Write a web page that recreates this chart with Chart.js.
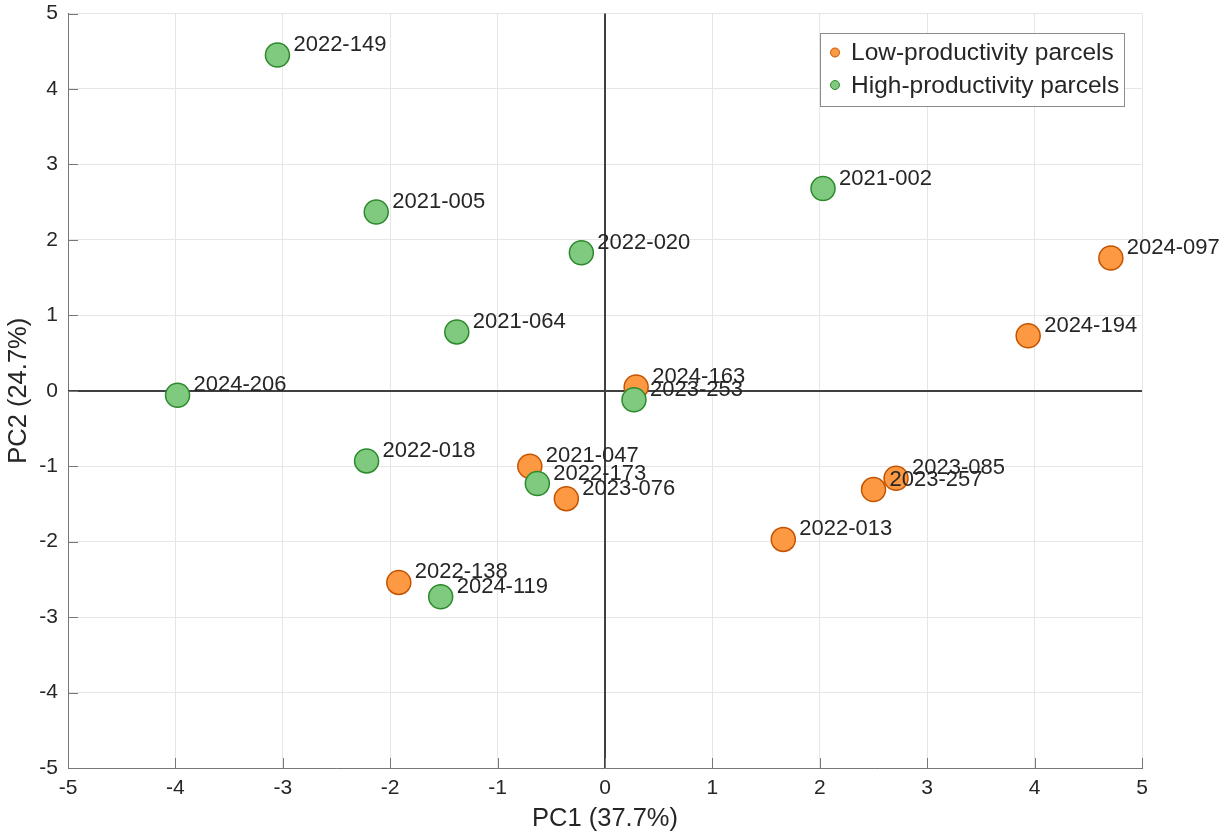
<!DOCTYPE html>
<html>
<head>
<meta charset="utf-8">
<script src="https://cdn.jsdelivr.net/npm/chart.js@4.4.1/dist/chart.umd.min.js"></script>
<style>
  html, body { margin: 0; padding: 0; background: #ffffff; }
  #wrap { width: 1227px; height: 834px; }
</style>
</head>
<body>
<div id="wrap"><canvas id="c" width="1227" height="834"></canvas></div>
<script>
// ---- Data ----
const lowLabels = ['2024-097', '2024-194', '2024-163', '2021-047', '2023-076', '2023-257', '2023-085', '2022-013', '2022-138'];
const lowX      = [4.71, 3.94, 0.29, -0.70, -0.36, 2.50, 2.71, 1.66, -1.92];
const lowY      = [1.76, 0.73, 0.05, -1.00, -1.43, -1.31, -1.16, -1.97, -2.54];

const highLabels = ['2022-149', '2021-005', '2022-020', '2021-064', '2021-002', '2024-206', '2023-253', '2022-018', '2022-173', '2024-119'];
const highX      = [-3.05, -2.13, -0.22, -1.38, 2.03, -3.98, 0.27, -2.22, -0.63, -1.53];
const highY      = [4.45, 2.37, 1.83, 0.78, 2.68, -0.06, -0.12, -0.93, -1.23, -2.73];

const seriesNames = ['Low-productivity parcels', 'High-productivity parcels'];
const xTicks = [-5, -4, -3, -2, -1, 0, 1, 2, 3, 4, 5];
const yTicks = [-5, -4, -3, -2, -1, 0, 1, 2, 3, 4, 5];
const xTitle = 'PC1 (37.7%)';
const yTitle = 'PC2 (24.7%)';

// ---- Styles ----
const FONT = '"Liberation Sans", Arial, Helvetica, sans-serif';
const TEXT = '#262626';
const lowFill = 'rgb(253,152,67)', lowEdge = 'rgb(196,84,0)';
const highFill = 'rgb(128,202,128)', highEdge = 'rgb(44,138,44)';

function toPts(xs, ys, labels) {
  return xs.map((x, i) => ({ x: x, y: ys[i], label: labels[i] }));
}

const zeroLines = {
  id: 'zeroLines',
  beforeDatasetsDraw(chart) {
    const { ctx, chartArea: a, scales: { x, y } } = chart;
    ctx.save();
    ctx.strokeStyle = '#404040';
    ctx.lineWidth = 2;
    const x0 = Math.round(x.getPixelForValue(0));
    const y0 = Math.round(y.getPixelForValue(0));
    ctx.beginPath();
    ctx.moveTo(x0, a.top); ctx.lineTo(x0, a.bottom);
    ctx.moveTo(a.left, y0); ctx.lineTo(a.right, y0);
    ctx.stroke();
    // inward tick marks
    ctx.strokeStyle = '#777';
    ctx.lineWidth = 1;
    ctx.beginPath();
    xTicks.forEach(v => {
      const px = Math.round(x.getPixelForValue(v)) + 0.5;
      ctx.moveTo(px, a.bottom); ctx.lineTo(px, a.bottom - 10);
    });
    yTicks.forEach(v => {
      const py = Math.round(y.getPixelForValue(v)) + 0.5;
      ctx.moveTo(a.left, py); ctx.lineTo(a.left + 10, py);
    });
    ctx.stroke();
    ctx.restore();
  }
};

const pointLabels = {
  id: 'pointLabels',
  afterDatasetsDraw(chart) {
    const { ctx } = chart;
    ctx.save();
    ctx.font = '22px ' + FONT;
    ctx.fillStyle = TEXT;
    ctx.textAlign = 'left';
    ctx.textBaseline = 'middle';
    [0, 1].forEach(di => {
      const meta = chart.getDatasetMeta(di);
      const ds = chart.data.datasets[di];
      meta.data.forEach((el, i) => {
        ctx.fillText(ds.data[i].label, el.x + 16, el.y - 10);
      });
    });
    ctx.restore();
  }
};

const boxLegend = {
  id: 'boxLegend',
  afterDraw(chart) {
    const { ctx } = chart;
    const bx = 820, by = 33, bw = 304, bh = 73;
    ctx.save();
    ctx.fillStyle = '#ffffff';
    ctx.fillRect(bx, by, bw, bh);
    ctx.strokeStyle = '#8c8c8c';
    ctx.lineWidth = 1;
    ctx.strokeRect(bx + 0.5, by + 0.5, bw, bh);
    ctx.font = '24.5px ' + FONT;
    ctx.textBaseline = 'middle';
    ctx.textAlign = 'left';
    const rows = [52.5, 85];
    chart.data.datasets.forEach((ds, i) => {
      ctx.beginPath();
      ctx.arc(835, rows[i], 4.5, 0, Math.PI * 2);
      ctx.fillStyle = ds.backgroundColor;
      ctx.fill();
      ctx.strokeStyle = ds.borderColor;
      ctx.lineWidth = 1;
      ctx.stroke();
      ctx.fillStyle = TEXT;
      ctx.fillText(ds.label, 851, rows[i] + 1);
    });
    ctx.restore();
  }
};

new Chart(document.getElementById('c'), {
  type: 'scatter',
  data: {
    datasets: [
      { label: seriesNames[0], data: toPts(lowX, lowY, lowLabels), backgroundColor: lowFill, borderColor: lowEdge,
        borderWidth: 1.5, pointRadius: 12, pointHoverRadius: 12, order: 1 },
      { label: seriesNames[1], data: toPts(highX, highY, highLabels), backgroundColor: highFill, borderColor: highEdge,
        borderWidth: 1.5, pointRadius: 12, pointHoverRadius: 12, order: 0 }
    ]
  },
  options: {
    responsive: false,
    animation: false,
    layout: { padding: { top: 13, right: 85, left: 0, bottom: 0 } },
    plugins: { legend: { display: false }, tooltip: { enabled: false } },
    scales: {
      x: {
        type: 'linear', min: -5, max: 5,
        afterBuildTicks: s => { s.ticks = xTicks.map(v => ({ value: v })); },
        afterFit: s => { s.height = 66; s.paddingLeft = 0; s.paddingRight = 0; },
        ticks: { font: { family: FONT, size: 21 }, color: TEXT, padding: 8 },
        grid: { color: '#e6e6e6', drawTicks: false },
        border: { display: true, color: '#777', width: 1 },
        title: { display: true, text: xTitle, font: { family: FONT, size: 25.5 }, color: TEXT, padding: { top: 0, bottom: 0 } }
      },
      y: {
        type: 'linear', min: -5, max: 5,
        afterBuildTicks: s => { s.ticks = yTicks.map(v => ({ value: v })); },
        afterFit: s => { s.width = 68; s.paddingTop = 0; s.paddingBottom = 0; },
        ticks: { font: { family: FONT, size: 21 }, color: TEXT, padding: 10 },
        grid: { color: '#e6e6e6', drawTicks: false },
        border: { display: true, color: '#777', width: 1 },
        title: { display: true, text: yTitle, font: { family: FONT, size: 25.5 }, color: TEXT, padding: { top: 4, bottom: 0 } }
      }
    }
  },
  plugins: [zeroLines, pointLabels, boxLegend]
});
</script>
</body>
</html>
